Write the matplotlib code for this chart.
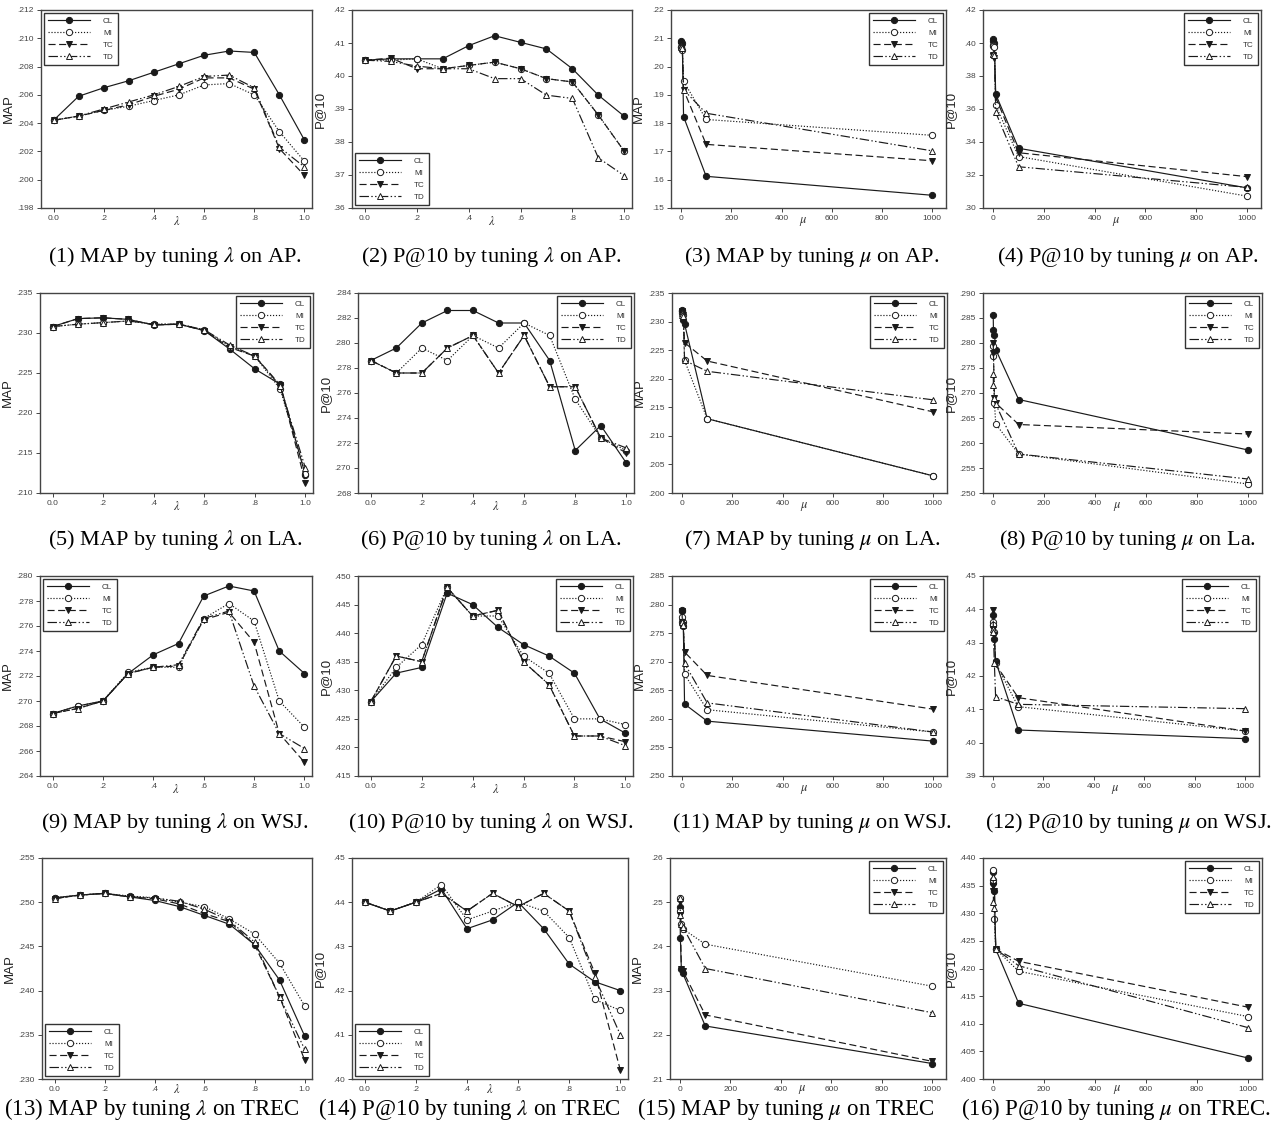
import matplotlib
matplotlib.use("Agg")
import matplotlib.pyplot as plt
from matplotlib.ticker import FuncFormatter, FixedLocator

# ---------------- data ----------------
lam = [0.0, 0.1, 0.2, 0.3, 0.4, 0.5, 0.6, 0.7, 0.8, 0.9, 1.0]
mu = [0, 1, 5, 10, 100, 1000]
series_names = ["CL", "MI", "TC", "TD"]

# (1) MAP by lambda on AP
p1_CL = [.2042, .2059, .2065, .2070, .2076, .2082, .2088, .2091, .2090, .2060, .2028]
p1_MI = [.2042, .2045, .2049, .2052, .2056, .2060, .2067, .2068, .2060, .2034, .2013]
p1_TC = [.2042, .2045, .2049, .2053, .2059, .2064, .2072, .2072, .2064, .2022, .2003]
p1_TD = [.2042, .2045, .2050, .2055, .2060, .2066, .2073, .2074, .2065, .2023, .2009]
# (2) P@10 by lambda on AP
p2_CL = [.4048, .4052, .4052, .4052, .4092, .4122, .4102, .4082, .4022, .3942, .3878]
p2_MI = [.4048, .4048, .4052, .4022, .4032, .4042, .4022, .3992, .3982, .3882, .3772]
p2_TC = [.4048, .4054, .4022, .4022, .4032, .4042, .4022, .3992, .3982, .3882, .3772]
p2_TD = [.4048, .4044, .4030, .4022, .4022, .3992, .3992, .3942, .3932, .3752, .3698]
# (3) MAP by mu on AP
p3_CL = [.2090, .2088, .2085, .1823, .1612, .1545]
p3_MI = [.2070, .2068, .2060, .1948, .1813, .1757]
p3_TC = [.2080, .2075, .2068, .1918, .1725, .1667]
p3_TD = [.2072, .2068, .2065, .1918, .1835, .1702]
# (4) P@10 by mu on AP
p4_CL = [.4022, .4010, .4000, .3690, .3362, .3122]
p4_MI = [.3985, .3980, .3975, .3622, .3312, .3072]
p4_TC = [.3930, .3920, .3912, .3672, .3335, .3190]
p4_TD = [.3935, .3932, .3930, .3580, .3250, .3125]
# (5) MAP by lambda on LA
p5_CL = [.2308, .2318, .2319, .2317, .2310, .2311, .2303, .2280, .2255, .2236, .2122]
p5_MI = [.2308, .2311, .2313, .2315, .2311, .2311, .2304, .2283, .2271, .2230, .2124]
p5_TC = [.2308, .2318, .2319, .2317, .2310, .2311, .2303, .2282, .2271, .2235, .2113]
p5_TD = [.2308, .2311, .2313, .2315, .2311, .2311, .2304, .2285, .2271, .2234, .2131]
# (6) P@10 by lambda on LA
p6_CL = [.2786, .2796, .2816, .2826, .2826, .2816, .2816, .2786, .2714, .2734, .2704]
p6_MI = [.2786, .2776, .2796, .2786, .2806, .2796, .2816, .2806, .2755, .2724, .2714]
p6_TC = [.2786, .2776, .2776, .2796, .2806, .2776, .2806, .2765, .2765, .2724, .2712]
p6_TD = [.2786, .2776, .2776, .2796, .2806, .2776, .2806, .2765, .2765, .2724, .2716]
# (7) MAP by mu on LA
p7_CL = [.2320, .2318, .2303, .2296, .2130, .2030]
p7_MI = [.2318, .2315, .2312, .2232, .2130, .2030]
p7_TC = [.2318, .2315, .2312, .2263, .2231, .2142]
p7_TD = [.2315, .2312, .2310, .2232, .2213, .2163]
# (8) P@10 by mu on LA
p8_CL = [.2857, .2827, .2817, .2787, .2687, .2586]
p8_MI = [.2795, .2775, .2680, .2638, .2578, .2518]
p8_TC = [.2800, .2780, .2690, .2680, .2637, .2618]
p8_TD = [.2738, .2717, .2690, .2678, .2578, .2528]
# (9) MAP by lambda on WSJ
p9_CL = [.2690, .2696, .2700, .2722, .2737, .2746, .2784, .2792, .2788, .2740, .2722]
p9_MI = [.2690, .2696, .2700, .2723, .2727, .2727, .2766, .2778, .2764, .2700, .2679]
p9_TC = [.2690, .2694, .2700, .2722, .2727, .2728, .2765, .2771, .2747, .2674, .2651]
p9_TD = [.2690, .2694, .2700, .2722, .2727, .2729, .2766, .2772, .2712, .2674, .2662]
# (10) P@10 by lambda on WSJ
p10_CL = [.428, .433, .434, .447, .445, .441, .438, .436, .433, .4250, .4225]
p10_MI = [.428, .434, .438, .448, .443, .443, .436, .433, .425, .425, .424]
p10_TC = [.428, .436, .435, .448, .443, .444, .435, .431, .422, .422, .421]
p10_TD = [.428, .436, .435, .448, .443, .444, .435, .431, .422, .422, .4203]
# (11) MAP by mu on WSJ
p11_CL = [.2791, .2788, .2763, .2626, .2596, .2561]
p11_MI = [.2778, .2770, .2770, .2678, .2616, .2577]
p11_TC = [.2788, .2770, .2765, .2717, .2676, .2617]
p11_TD = [.2772, .2770, .2765, .2697, .2628, .2577]
# (12) P@10 by mu on WSJ
p12_CL = [.4382, .4352, .4312, .4245, .4038, .4012]
p12_MI = [.4362, .4352, .4332, .4238, .4108, .4035]
p12_TC = [.4398, .4342, .4322, .4235, .4135, .4035]
p12_TD = [.4342, .4332, .4240, .4138, .4115, .4102]
# (13) MAP by lambda on TREC
p13_CL = [.2505, .2508, .2510, .2506, .2502, .2495, .2485, .2475, .2452, .2412, .2349]
p13_MI = [.2505, .2508, .2510, .2507, .2505, .2500, .2495, .2481, .2464, .2431, .2383]
p13_TC = [.2504, .2508, .2510, .2506, .2504, .2498, .2487, .2478, .2452, .2393, .2322]
p13_TD = [.2504, .2508, .2510, .2506, .2505, .2501, .2492, .2479, .2455, .2393, .2334]
# (14) P@10 by lambda on TREC
p14_CL = [.440, .438, .440, .443, .434, .436, .440, .434, .426, .422, .420]
p14_MI = [.440, .438, .440, .444, .436, .438, .440, .438, .432, .418, .4155]
p14_TC = [.440, .438, .440, .442, .438, .442, .439, .442, .438, .424, .402]
p14_TD = [.440, .438, .440, .442, .438, .442, .439, .442, .438, .423, .410]
# (15) MAP by mu on TREC
p15_CL = [.2490, .2420, .2350, .2340, .2220, .2135]
p15_MI = [.2510, .2480, .2450, .2440, .2405, .2310]
p15_TC = [.2500, .2470, .2350, .2345, .2245, .2140]
p15_TD = [.2510, .2470, .2450, .2445, .2350, .2250]
# (16) P@10 by mu on TREC
p16_CL = [.4375, .4355, .4340, .4235, .4137, .4038]
p16_MI = [.4378, .4360, .4290, .4235, .4195, .4113]
p16_TC = [.4350, .4340, .4340, .4235, .4213, .4130]
p16_TD = [.4365, .4320, .4310, .4235, .4205, .4093]

captions = [
    r"(1) MAP by tuning $\lambda$ on AP.", r"(2) P@10 by tuning $\lambda$ on AP.",
    r"(3) MAP by tuning $\mu$ on AP.", r"(4) P@10 by tuning $\mu$ on AP.",
    r"(5) MAP by tuning $\lambda$ on LA.", r"(6) P@10 by tuning $\lambda$ on LA.",
    r"(7) MAP by tuning $\mu$ on LA.", r"(8) P@10 by tuning $\mu$ on La.",
    r"(9) MAP by tuning $\lambda$ on WSJ.", r"(10) P@10 by tuning $\lambda$ on WSJ.",
    r"(11) MAP by tuning $\mu$ on WSJ.", r"(12) P@10 by tuning $\mu$ on WSJ.",
    r"(13) MAP by tuning $\lambda$ on TREC", r"(14) P@10 by tuning $\lambda$ on TREC",
    r"(15) MAP by tuning $\mu$ on TREC", r"(16) P@10 by tuning $\mu$ on TREC.",
]

panels_data = [
    (lam, [p1_CL, p1_MI, p1_TC, p1_TD]), (lam, [p2_CL, p2_MI, p2_TC, p2_TD]),
    (mu, [p3_CL, p3_MI, p3_TC, p3_TD]), (mu, [p4_CL, p4_MI, p4_TC, p4_TD]),
    (lam, [p5_CL, p5_MI, p5_TC, p5_TD]), (lam, [p6_CL, p6_MI, p6_TC, p6_TD]),
    (mu, [p7_CL, p7_MI, p7_TC, p7_TD]), (mu, [p8_CL, p8_MI, p8_TC, p8_TD]),
    (lam, [p9_CL, p9_MI, p9_TC, p9_TD]), (lam, [p10_CL, p10_MI, p10_TC, p10_TD]),
    (mu, [p11_CL, p11_MI, p11_TC, p11_TD]), (mu, [p12_CL, p12_MI, p12_TC, p12_TD]),
    (lam, [p13_CL, p13_MI, p13_TC, p13_TD]), (lam, [p14_CL, p14_MI, p14_TC, p14_TD]),
    (mu, [p15_CL, p15_MI, p15_TC, p15_TD]), (mu, [p16_CL, p16_MI, p16_TC, p16_TD]),
]

# y axis settings: (ymin, ymax, step, decimals)
yaxes = [
    (.198, .212, .002, 3), (.36, .42, .01, 2), (.15, .22, .01, 2), (.30, .42, .02, 2),
    (.210, .235, .005, 3), (.268, .284, .002, 3), (.200, .235, .005, 3), (.250, .290, .005, 3),
    (.264, .280, .002, 3), (.415, .450, .005, 3), (.250, .285, .005, 3), (.39, .45, .01, 2),
    (.230, .255, .005, 3), (.40, .45, .01, 2), (.21, .26, .01, 2), (.400, .440, .005, 3),
]
ylabels = ["MAP", "P@10"] * 8
legend_locs = ["upper left", "lower left", "upper right", "upper right",
               "upper right", "upper right", "upper right", "upper right",
               "upper left", "upper right", "upper right", "upper right",
               "lower left", "lower left", "upper right", "upper right"]

# ---------------- layout (pixels) ----------------
W, H = 1287, 1122
fig = plt.figure(figsize=(W / 100, H / 100), dpi=100)
fig.patch.set_facecolor("white")
plt.rcParams["mathtext.fontset"] = "stix"

row_tb = [(10, 208), (293, 493), (576, 776), (858, 1079)]
col_lr = [
    [(41, 312), (352, 632), (671, 946), (983, 1261)],
    [(40, 313), (358, 634), (672, 947), (983, 1262)],
    [(40, 312), (358, 633), (672, 947), (983, 1259)],
    [(42, 312), (352, 628), (670, 946), (983, 1262)],
]
xlabel_off = [7, 7, 7, 4]
caption_y = [257, 540, 823, 1109]
caption_x = [175, 491, 812, 1128]
row4_caption_x = [4, 318, 637, 961]

LC = "#1a1a1a"
styles = [
    dict(linestyle="-", marker="o", mfc=LC, mec=LC),
    dict(linestyle=(0, (1, 1.5)), marker="o", mfc="white", mec=LC),
    dict(linestyle=(0, (6, 3)), marker="v", mfc=LC, mec=LC),
    dict(linestyle=(0, (8, 2, 1.2, 2, 1.2, 2)), marker="^", mfc="white", mec=LC),
]

def lam_fmt(v, p):
    if abs(v) < 1e-9:
        return "0.0"
    if abs(v - 1) < 1e-9:
        return "1.0"
    return f"{v:.1f}".lstrip("0")

for i in range(16):
    r, c = divmod(i, 4)
    t, b = row_tb[r]
    l, rr = col_lr[r][c]
    ax = fig.add_axes([l / W, 1 - b / H, (rr - l) / W, (b - t) / H])
    xs, ys_list = panels_data[i]
    for name, ys, st in zip(series_names, ys_list, styles):
        ax.plot(xs, ys, color=LC, lw=0.85, markersize=4.5, mew=0.7, label=name, **st)

    ymin, ymax, step, dec = yaxes[i]
    n = int(round((ymax - ymin) / step))
    yt = [ymin + k * step for k in range(n + 1)]
    ax.set_ylim(ymin, ymax)
    ax.yaxis.set_major_locator(FixedLocator(yt))
    ax.yaxis.set_major_formatter(FuncFormatter(lambda v, p, d=dec: f"{v:.{d}f}".lstrip("0")))

    w_px, h_px = rr - l, b - t
    if xs is lam:
        ax.set_xlim(-0.05, 1.03)
        ax.xaxis.set_major_locator(FixedLocator([0, .2, .4, .6, .8, 1.0]))
        ax.xaxis.set_major_formatter(FuncFormatter(lam_fmt))
        ax.set_xlabel(r"$\lambda$", fontsize=9, color="#333333")
        ax.xaxis.set_label_coords(0.5, -xlabel_off[r] / h_px)
    else:
        ax.set_xlim(-40, 1055)
        ax.xaxis.set_major_locator(FixedLocator([0, 200, 400, 600, 800, 1000]))
        ax.xaxis.set_major_formatter(FuncFormatter(lambda v, p: f"{int(round(v))}"))
        ax.set_xlabel(r"$\mu$", fontsize=9, color="#333333")
        ax.xaxis.set_label_coords(0.48, -xlabel_off[r] / h_px)

    ax.set_ylabel(ylabels[i], fontsize=9.5, family="Liberation Sans", color="#222222")
    ax.yaxis.set_label_coords(-26 / w_px, 0.5)

    ax.tick_params(axis="both", direction="out", length=3, width=0.7,
                   labelsize=6, colors="#444444", pad=2)
    for lab in ax.get_xticklabels() + ax.get_yticklabels():
        lab.set_family("Liberation Sans")
    for sp in ax.spines.values():
        sp.set_color("#444444")
        sp.set_linewidth(1.0)

    leg = ax.legend(loc=legend_locs[i], handlelength=5.2,
                    handletextpad=1.6, labelspacing=0.55, borderpad=0.5,
                    borderaxespad=0.4, fancybox=False, framealpha=1,
                    edgecolor="#333333", prop={"family": "Liberation Sans", "size": 5.8})
    leg.get_frame().set_linewidth(1.0)
    for txt in leg.get_texts():
        txt.set_color("#333333")

    if r < 3:
        fig.text(caption_x[c] / W, 1 - caption_y[r] / H, captions[i], ha="center",
                 va="center", fontsize=16, family="Liberation Serif")
    else:
        fig.text(row4_caption_x[c] / W, 1 - caption_y[r] / H, captions[i], ha="left",
                 va="center", fontsize=16.5, family="Liberation Serif")

fig.savefig("out.png", dpi=100, facecolor="white")
